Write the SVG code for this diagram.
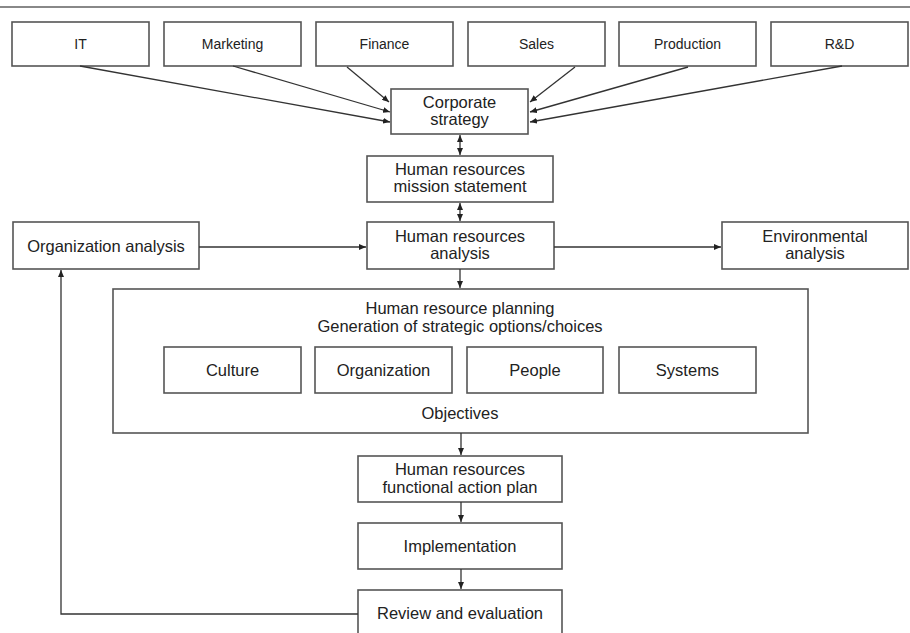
<svg xmlns="http://www.w3.org/2000/svg" width="910" height="633" viewBox="0 0 910 633">
<defs>
<marker id="ah" markerWidth="8" markerHeight="6" refX="7" refY="3" orient="auto" markerUnits="userSpaceOnUse">
<path d="M0,0 L7,3 L0,6 Z" fill="#222"/>
</marker>
<marker id="as" markerWidth="8" markerHeight="6" refX="1" refY="3" orient="auto" markerUnits="userSpaceOnUse">
<path d="M8,0 L1,3 L8,6 Z" fill="#222"/>
</marker>
</defs>
<style>
rect{fill:#fff;stroke:#555;stroke-width:1.6}
text{font-family:"Liberation Sans","DejaVu Sans",sans-serif;font-size:16.5px;fill:#222;text-anchor:middle}
.top{font-size:14px}
.c line,.c path{stroke:#333;stroke-width:1.3;fill:none}
.a{marker-end:url(#ah)}
.d{marker-end:url(#ah);marker-start:url(#as)}
</style>
<rect width="910" height="633" style="fill:#fff;stroke:none"/>
<line x1="0" y1="7" x2="910" y2="7" stroke="#888" stroke-width="2"/>

<g id="it"><rect x="12" y="22" width="137" height="44"/><text class="top" x="80.5" y="49">IT</text></g>
<g id="marketing"><rect x="164" y="22" width="137" height="44"/><text class="top" x="232.5" y="49">Marketing</text></g>
<g id="finance"><rect x="316" y="22" width="137" height="44"/><text class="top" x="384.5" y="49">Finance</text></g>
<g id="sales"><rect x="468" y="22" width="137" height="44"/><text class="top" x="536.5" y="49">Sales</text></g>
<g id="production"><rect x="619" y="22" width="137" height="44"/><text class="top" x="687.5" y="49">Production</text></g>
<g id="rd"><rect x="771" y="22" width="137" height="44"/><text class="top" x="839.5" y="49">R&amp;D</text></g>

<g id="corporate"><rect x="391" y="89" width="137" height="45"/><text x="459.5" y="108">Corporate</text><text x="459.5" y="125">strategy</text></g>
<g id="mission"><rect x="367" y="156" width="186" height="46"/><text x="460" y="175">Human resources</text><text x="460" y="192">mission statement</text></g>
<g id="hranalysis"><rect x="367" y="222" width="187" height="47"/><text x="460" y="242">Human resources</text><text x="460" y="259">analysis</text></g>
<g id="organalysis"><rect x="13" y="222" width="186" height="47"/><text x="106" y="252">Organization analysis</text></g>
<g id="envanalysis"><rect x="722" y="222" width="186" height="47"/><text x="815" y="242">Environmental</text><text x="815" y="259">analysis</text></g>

<g id="planning"><rect x="113" y="289" width="695" height="144"/>
<text x="460" y="314">Human resource planning</text>
<text x="460" y="332">Generation of strategic options/choices</text>
<text x="460" y="419">Objectives</text></g>
<g id="culture"><rect x="164" y="347" width="137" height="46"/><text x="232.5" y="376">Culture</text></g>
<g id="organization"><rect x="315" y="347" width="137" height="46"/><text x="383.5" y="376">Organization</text></g>
<g id="people"><rect x="467" y="347" width="136" height="46"/><text x="535" y="376">People</text></g>
<g id="systems"><rect x="619" y="347" width="137" height="46"/><text x="687.5" y="376">Systems</text></g>

<g id="functional"><rect x="358" y="456" width="204" height="46"/><text x="460" y="475">Human resources</text><text x="460" y="493">functional action plan</text></g>
<g id="implementation"><rect x="358" y="523" width="204" height="46"/><text x="460" y="552">Implementation</text></g>
<g id="review"><rect x="358" y="590" width="204" height="60"/><text x="460" y="619">Review and evaluation</text></g>

<g id="connectors" class="c">
<line class="a" x1="80" y1="66" x2="390" y2="122"/>
<line class="a" x1="233" y1="66" x2="390" y2="112"/>
<line class="a" x1="347" y1="67" x2="389" y2="102"/>
<line class="a" x1="575" y1="67" x2="530" y2="102"/>
<line class="a" x1="688" y1="67" x2="530" y2="112"/>
<line class="a" x1="842" y1="66" x2="530" y2="122"/>
<line class="d" x1="460" y1="135" x2="460" y2="155"/>
<line class="d" x1="460" y1="203" x2="460" y2="221"/>
<line class="a" x1="199" y1="247" x2="366" y2="247"/>
<line class="a" x1="554" y1="247" x2="721" y2="247"/>
<line class="a" x1="460" y1="269" x2="460" y2="288"/>
<line class="a" x1="461" y1="433" x2="461" y2="455"/>
<line class="a" x1="461" y1="502" x2="461" y2="522"/>
<line class="a" x1="461" y1="569" x2="461" y2="589"/>
<path class="a" d="M358,614 H61 V270"/>
</g>
</svg>
